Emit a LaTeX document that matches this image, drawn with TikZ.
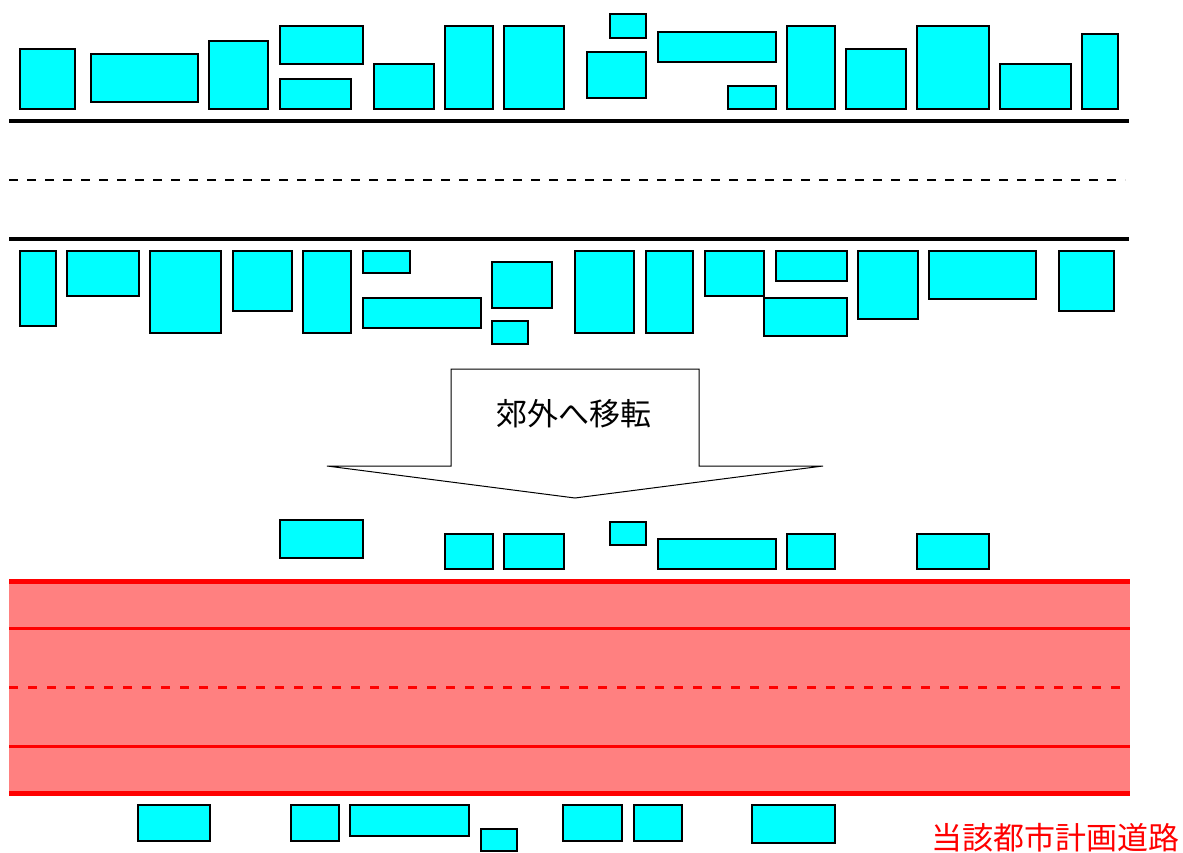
\documentclass[tikz,border=0pt]{standalone}
\usepackage{fontspec}
\newfontfamily\jp{Noto Sans CJK JP}
\definecolor{bldcyan}{HTML}{00FFFF}
\definecolor{roadfill}{HTML}{FF8080}
\definecolor{roadred}{HTML}{FF0000}
\tikzset{
  bld/.style={draw=black, fill=bldcyan, line width=1.5pt, inner sep=0pt, outer sep=0pt, anchor=north west},
  streetline/.style={draw=black, line width=4pt},
  centerdash/.style={draw=black, line width=2pt, dash pattern=on 9pt off 9pt},
  roadedge/.style={draw=roadred, line width=5pt},
  laneline/.style={draw=roadred, line width=2.5pt},
  lanedash/.style={draw=roadred, line width=2.5pt, dash pattern=on 9pt off 10pt},
  movearrow/.style={draw=black, fill=white, line width=1pt, line join=miter},
  lbl/.style={font=\jp\fontsize{31}{31}\selectfont, inner sep=0pt}
}
\newcommand\bldg[5]{\node[bld, minimum width=#4pt-#2pt, minimum height=#5pt-#3pt] (#1) at (#2,#3) {};}
\begin{document}
\begin{tikzpicture}[x=1pt, y=-1pt]
\useasboundingbox (0,0) rectangle (1183,852);
% --- upper street ---
\draw[streetline] (9,121) -- (1129,121);
\draw[centerdash] (9,180) -- (1125,180);
\draw[streetline] (9,239) -- (1129,239);
% top row of buildings
\bldg{a1}{20}{49}{75}{109}
\bldg{a2}{91}{54}{198}{102}
\bldg{a3}{209}{41}{268}{109}
\bldg{a4}{280}{26}{363}{64}
\bldg{a5}{280}{79}{351}{109}
\bldg{a6}{374}{64}{434}{109}
\bldg{a7}{445}{26}{493}{109}
\bldg{a8}{504}{26}{564}{109}
\bldg{a9}{610}{14}{646}{38}
\bldg{a10}{587}{52}{646}{98}
\bldg{a11}{658}{32}{776}{62}
\bldg{a12}{728}{86}{776}{109}
\bldg{a13}{787}{26}{835}{109}
\bldg{a14}{846}{49}{906}{109}
\bldg{a15}{917}{26}{989}{109}
\bldg{a16}{1000}{64}{1071}{109}
\bldg{a17}{1082}{34}{1118}{109}
% second row of buildings
\bldg{b1}{20}{251}{56}{326}
\bldg{b2}{67}{251}{139}{296}
\bldg{b3}{150}{251}{221}{333}
\bldg{b4}{233}{251}{292}{311}
\bldg{b5}{303}{251}{351}{333}
\bldg{b6}{363}{251}{410}{273}
\bldg{b7}{363}{298}{481}{328}
\bldg{b8}{492}{262}{552}{308}
\bldg{b9}{492}{321}{528}{344}
\bldg{b10}{575}{251}{634}{333}
\bldg{b11}{646}{251}{693}{333}
\bldg{b12}{705}{251}{764}{296}
\bldg{b13}{776}{251}{847}{281}
\bldg{b14}{764}{298}{847}{336}
\bldg{b15}{858}{251}{918}{319}
\bldg{b16}{929}{251}{1036}{299}
\bldg{b17}{1059}{251}{1114}{311}
% --- arrow ---
\draw[movearrow] (451,369) -- (699,369) -- (699,466) -- (823,466) -- (575,498) -- (327,466) -- (451,466) -- cycle;
\node[lbl] (move) at (574,414) {郊外へ移転};
% --- remaining buildings above the planned road ---
\bldg{c1}{280}{520}{363}{558}
\bldg{c2}{445}{534}{493}{569}
\bldg{c3}{504}{534}{564}{569}
\bldg{c4}{610}{522}{646}{545}
\bldg{c5}{658}{539}{776}{569}
\bldg{c6}{787}{534}{835}{569}
\bldg{c7}{917}{534}{989}{569}
% --- planned road ---
\fill[roadfill] (9,581.5) rectangle (1130,793.5);
\draw[roadedge] (9,581.5) -- (1130,581.5);
\draw[laneline] (9,628.5) -- (1130,628.5);
\draw[lanedash] (9,687.5) -- (1126,687.5);
\draw[laneline] (9,746.5) -- (1130,746.5);
\draw[roadedge] (9,793.5) -- (1130,793.5);
% buildings below the road
\bldg{d1}{138}{805}{210}{841}
\bldg{d2}{291}{805}{339}{841}
\bldg{d3}{350}{805}{469}{836}
\bldg{d4}{481}{829}{517}{851}
\bldg{d5}{563}{805}{622}{841}
\bldg{d6}{634}{805}{682}{841}
\bldg{d7}{752}{805}{835}{843}
\node[lbl, text=roadred] (roadname) at (1055,838) {当該都市計画道路};
\end{tikzpicture}
\end{document}
